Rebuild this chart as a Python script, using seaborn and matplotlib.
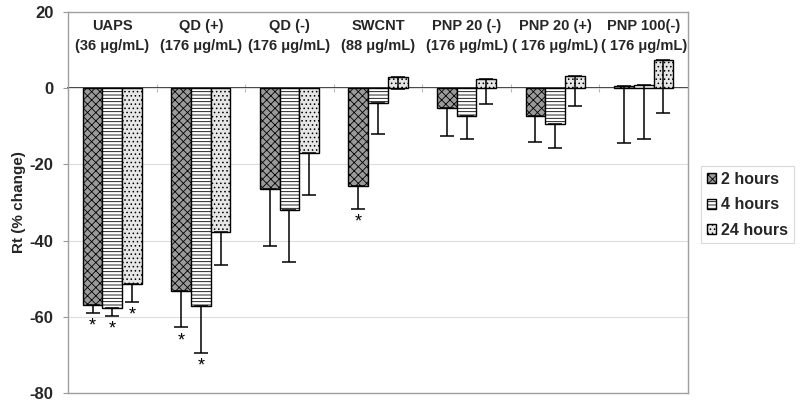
import numpy as np
import pandas as pd
import matplotlib
matplotlib.use("Agg")
import matplotlib.pyplot as plt
import seaborn as sns

# ---- data ----
groups = ["UAPS", "QD (+)", "QD (-)", "SWCNT", "PNP 20 (-)", "PNP 20 (+)", "PNP 100(-)"]
doses = ["(36 \u03bcg/mL)", "(176 \u03bcg/mL)", "(176 \u03bcg/mL)", "(88 \u03bcg/mL)",
         "(176 \u03bcg/mL)", "( 176 \u03bcg/mL)", "( 176 \u03bcg/mL)"]
times = ["2 hours", "4 hours", "24 hours"]
vals_2h = [-56.8, -53.1, -26.5, -25.6, -5.2, -7.2, 0.6]
vals_4h = [-57.8, -57.1, -32.0, -3.9, -7.3, -9.3, 0.9]
vals_24h = [-51.4, -37.8, -17.0, 3.0, 2.4, 3.2, 7.3]
err_2h = [2.3, 9.7, 15.0, 6.0, 7.4, 6.8, 14.9]
err_4h = [2.0, 12.5, 13.7, 8.0, 6.1, 6.4, 14.3]
err_24h = [4.7, 8.7, 11.0, 3.3, 6.6, 8.0, 13.9]
sig_2h = [True, True, False, True, False, False, False]
sig_4h = [True, True, False, False, False, False, False]
sig_24h = [True, False, False, False, False, False, False]

vals = [vals_2h, vals_4h, vals_24h]
errs = [err_2h, err_4h, err_24h]
sigs = [sig_2h, sig_4h, sig_24h]

df = pd.DataFrame({
    "group": np.repeat([groups], 3, axis=0).ravel(),
    "time": np.repeat(times, len(groups)),
    "value": np.concatenate(vals),
})

sns.set_theme(style="white")
plt.rcParams["font.family"] = ["Liberation Sans", "DejaVu Sans"]
plt.rcParams["hatch.linewidth"] = 0.6

fig = plt.figure(figsize=(8, 4.05), dpi=100)
ax = fig.add_axes([0.085, 0.0296, 0.775, 0.9408])

sns.barplot(data=df, x="group", y="value", hue="time", order=groups, hue_order=times,
            palette=["#9a9a9a", "#ffffff", "#e6e6e6"], width=0.667, gap=0,
            edgecolor="black", linewidth=1.0, errorbar=None, legend=False, ax=ax, zorder=3)

hatches = ["xxxx", "-----", "...."]
for cont, h, e, s in zip(ax.containers, hatches, errs, sigs):
    xs, ys = [], []
    for p, err, sig in zip(cont.patches, e, s):
        p.set_hatch(h)
        p.set_edgecolor("black")
        xc = p.get_x() + p.get_width() / 2
        top = p.get_y() + p.get_height()
        xs.append(xc)
        ys.append(top)
        if sig:
            ax.text(xc, top - err - 1.2, "*", ha="center", va="top", fontsize=13,
                    color="black", zorder=5)
    ax.errorbar(xs, ys, yerr=[e, [0] * len(e)], fmt="none", ecolor="black",
                elinewidth=1.1, capsize=5, capthick=1.1, zorder=4)

ax.set_ylim(-80, 20)
ax.set_xlim(-0.5, len(groups) - 0.5)
ax.set_yticks([20, 0, -20, -40, -60, -80])
ax.set_yticklabels(["20", "0", "-20", "-40", "-60", "-80"], fontsize=12, fontweight="bold")
ax.set_xticks([])
ax.set_xlabel("")
ax.set_ylabel("Rt (% change)", fontsize=11, fontweight="bold")
ax.yaxis.set_label_coords(-0.067, 0.5)
ax.yaxis.grid(True, color="#dddddd", linewidth=0.8, zorder=0)
ax.set_axisbelow(True)
ax.tick_params(axis="y", which="major", left=True, length=3.6, color="#999999", width=0.8, pad=7)
for sp in ax.spines.values():
    sp.set_color("#a0a0a0")
    sp.set_linewidth(1.0)

# category axis crossing at zero
sec = ax.secondary_xaxis(0.8)
sec.set_xticks(np.arange(len(groups) + 1) - 0.5)
sec.set_xticklabels([])
sec.tick_params(axis="x", direction="inout", length=6, color="#bbbbbb", width=0.8)
sec.spines["bottom"].set_color("#cccccc")

for i, (g, d) in enumerate(zip(groups, doses)):
    ax.text(i, 16.3, g, ha="center", va="center", fontsize=10.5, fontweight="bold")
    ax.text(i, 11.2, d, ha="center", va="center", fontsize=10.5, fontweight="bold")

leg = ax.legend(handles=list(ax.containers), labels=times, loc="upper left",
                bbox_to_anchor=(1.021, 0.595), frameon=True, fancybox=False,
                edgecolor="#d0d0d0", handlelength=0.6, handleheight=0.6,
                handletextpad=0.3, labelspacing=0.65, borderpad=0.35, borderaxespad=0,
                prop={"weight": "bold", "size": 11.5})
leg.get_frame().set_linewidth(0.8)

fig.savefig("out.png", dpi=100)
